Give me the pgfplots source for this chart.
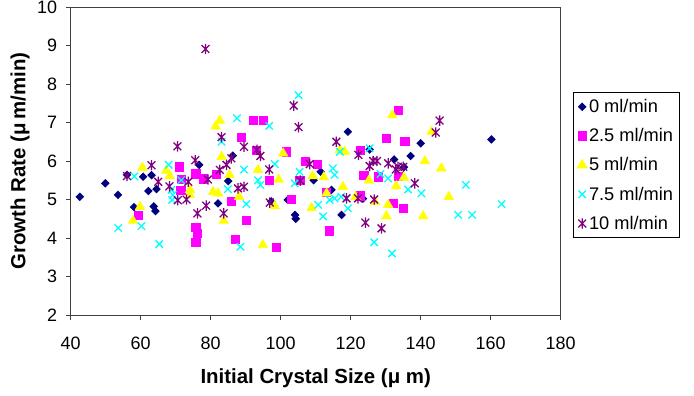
\documentclass[border=0pt]{standalone}
\usepackage{fontspec}
\setmainfont{Liberation Sans}
\usepackage{pgfplots}
\pgfplotsset{compat=1.18}

\definecolor{cnavy}{RGB}{0,0,128}
\definecolor{cmag}{RGB}{255,0,255}
\definecolor{cyel}{RGB}{255,255,0}
\definecolor{ccyan}{RGB}{0,255,255}
\definecolor{cpurp}{RGB}{128,0,128}

% Excel-style asterisk: an x with a vertical bar
\pgfdeclareplotmark{xstar}{%
  \pgfpathmoveto{\pgfqpoint{0pt}{\pgfplotmarksize}}%
  \pgfpathlineto{\pgfqpoint{0pt}{-\pgfplotmarksize}}%
  \pgfpathmoveto{\pgfqpoint{-.75\pgfplotmarksize}{.75\pgfplotmarksize}}%
  \pgfpathlineto{\pgfqpoint{.75\pgfplotmarksize}{-.75\pgfplotmarksize}}%
  \pgfpathmoveto{\pgfqpoint{-.75\pgfplotmarksize}{-.75\pgfplotmarksize}}%
  \pgfpathlineto{\pgfqpoint{.75\pgfplotmarksize}{.75\pgfplotmarksize}}%
  \pgfusepathqstroke}
% square-proportioned filled diamond
\pgfdeclareplotmark{rdiamond}{%
  \pgfpathmoveto{\pgfqpoint{0pt}{\pgfplotmarksize}}%
  \pgfpathlineto{\pgfqpoint{\pgfplotmarksize}{0pt}}%
  \pgfpathlineto{\pgfqpoint{0pt}{-\pgfplotmarksize}}%
  \pgfpathlineto{\pgfqpoint{-\pgfplotmarksize}{0pt}}%
  \pgfpathclose
  \pgfusepathqfill}

\begin{document}
\begin{tikzpicture}
\path[use as bounding box] (-70.7bp,-81bp) rectangle (623.3bp,315bp);
\begin{axis}[
  scale only axis, width=490bp, height=308bp,
  at={(0,0)}, anchor=south west,
  xmin=40, xmax=180, ymin=2, ymax=10,
  xtick={40,60,...,180}, ytick={2,3,...,10},
  tick align=outside, tick pos=left, major tick length=5bp,
  axis line style={black!75, line width=0.8pt},
  tick style={black!75, line width=0.8pt},
  /pgf/number format/assume math mode=true,
  ticklabel style={font=\fontsize{18}{18}\selectfont},
  xticklabel style={yshift=-13bp},
  yticklabel style={xshift=-5bp},
  xlabel={Initial Crystal Size (μ m)},
  ylabel={Growth Rate (μ\,m/min)},
  xlabel style={font=\fontsize{20.5}{20.5}\selectfont\bfseries, at={(axis description cs:0.5,-0.205)}, anchor=center},
  ylabel style={font=\fontsize{20.5}{20.5}\selectfont\bfseries, at={(axis description cs:-0.1035,0.5)}, anchor=center},
  legend style={at={(axis description cs:1.025,0.724)}, anchor=north west,
    draw=black, line width=0.8pt, font=\fontsize{18.3}{18.3}\selectfont,
    row sep=10.5bp, inner xsep=4bp, inner ysep=5bp,
    /tikz/every even column/.append style={column sep=3bp}},
  legend cell align=left,
  only marks,
]
\addplot[mark=rdiamond, mark size=4.3bp, color=cnavy] coordinates {
(42.6,5.07) (49.9,5.42) (53.5,5.12) (56.1,5.64) (58.1,4.80) (60.7,5.59)
(63.1,5.63) (62.2,5.22) (64.5,5.27) (63.7,4.82) (64.2,4.70) (76.7,5.90)
(86.3,6.14) (85.0,5.48) (82.1,4.90) (97.3,4.95) (102.0,4.99) (119.2,6.76)
(111.4,5.72) (109.4,5.50) (114.5,5.25) (104.1,4.60) (104.3,4.50) (117.4,4.60)
(123.5,5.02) (125.4,6.30) (140.0,6.46) (137.1,6.13) (132.4,6.04) (135.2,5.84)
(160.2,6.56)
};
\addlegendentry{0 ml/min}
\addplot[mark=square*, mark size=4.1bp, color=cmag] coordinates {
(59.2,4.60) (70.9,5.85) (71.5,5.52) (71.4,5.25) (75.7,5.67) (77.8,5.54)
(75.7,4.28) (76.1,4.12) (75.7,3.89) (81.6,5.66) (85.9,4.95) (86.9,3.97)
(88.6,6.62) (90.2,4.47) (92.1,7.05) (95.0,7.05) (93.1,6.29) (96.7,5.50)
(98.6,3.77) (101.6,6.24) (103.1,5.00) (105.4,5.50) (107.1,6.00) (110.4,5.92)
(112.9,5.20) (113.8,4.19) (122.6,6.29) (123.7,5.64) (122.8,5.10) (127.8,5.59)
(130.2,6.59) (133.5,7.33) (135.4,6.52) (133.5,5.61) (132.1,4.90) (135.0,4.77)
};
\addlegendentry{2.5 ml/min}
\addplot[mark=triangle*, mark size=5.6bp, color=cyel] coordinates {
(57.8,4.45) (59.8,4.81) (60.5,5.83) (67.3,5.75) (68.3,5.61) (74.1,5.25)
(74.0,5.12) (80.7,5.20) (82.1,5.16) (81.4,6.90) (82.6,7.05) (83.1,6.11)
(83.7,4.45) (85.4,5.64) (88.1,5.07) (93.5,5.77) (94.9,3.82) (98.3,4.83)
(99.4,5.52) (100.7,6.20) (108.8,4.78) (109.1,5.61) (112.3,5.58) (113.1,5.16)
(116.9,6.29) (118.3,6.24) (117.8,5.33) (121.4,5.07) (125.2,5.50) (126.9,4.94)
(130.7,4.86) (130.2,4.57) (131.9,7.19) (133.0,5.35) (135.2,5.57) (140.7,4.57)
(141.2,6.00) (143.1,6.76) (145.9,5.81) (148.0,5.07)
};
\addlegendentry{5 ml/min}
\addplot[mark=x, mark size=5.2bp, color=ccyan, mark options={line width=1.3pt}] coordinates {
(53.6,4.26) (58.2,5.60) (60.2,4.31) (65.3,3.84) (68.0,5.90) (68.8,5.25)
(69.2,5.12) (69.0,4.99) (71.6,5.50) (83.1,6.50) (84.9,5.27) (87.5,7.11)
(88.5,3.77) (89.5,5.78) (90.2,4.88) (93.5,5.50) (94.2,5.38) (96.7,6.91)
(98.3,5.92) (104.0,5.42) (105.1,7.71) (105.4,5.72) (110.7,4.86) (112.1,4.56)
(114.0,4.99) (115.4,5.03) (114.9,5.81) (115.4,5.64) (116.9,6.24) (117.3,5.07)
(119.2,4.77) (125.4,6.33) (126.7,3.89) (128.5,5.66) (130.7,5.55) (131.8,3.60)
(136.4,5.26) (140.2,5.16) (150.7,4.60) (152.9,5.38) (154.7,4.60) (163.1,4.88)
};
\addlegendentry{7.5 ml/min}
\addplot[mark=xstar, mark size=5.2bp, color=cpurp, mark options={line width=1.3pt}] coordinates {
(56.1,5.61) (63.1,5.89) (65.0,5.46) (68.2,5.34) (70.5,6.38) (70.6,4.98)
(73.1,5.00) (73.6,5.46) (75.6,6.02) (76.2,4.64) (78.7,4.84) (78.5,8.91)
(79.2,5.52) (82.6,5.77) (83.1,6.62) (83.7,4.64) (84.5,5.90) (85.9,6.07)
(87.8,5.29) (89.5,5.33) (89.5,6.37) (93.2,6.29) (94.2,6.13) (96.7,5.78)
(96.9,4.92) (103.7,7.44) (105.1,6.88) (105.6,5.49) (108.3,5.92) (115.9,6.50)
(118.8,5.03) (122.1,5.03) (122.2,6.16) (124.2,4.40) (125.4,5.87) (126.4,6.00)
(127.5,6.00) (126.7,5.00) (128.8,4.25) (130.7,5.94) (132.9,5.78) (133.5,5.85)
(135.0,5.85) (138.3,5.42) (144.3,6.74) (145.4,7.05)
};
\addlegendentry{10 ml/min}
\end{axis}
\end{tikzpicture}
\end{document}
